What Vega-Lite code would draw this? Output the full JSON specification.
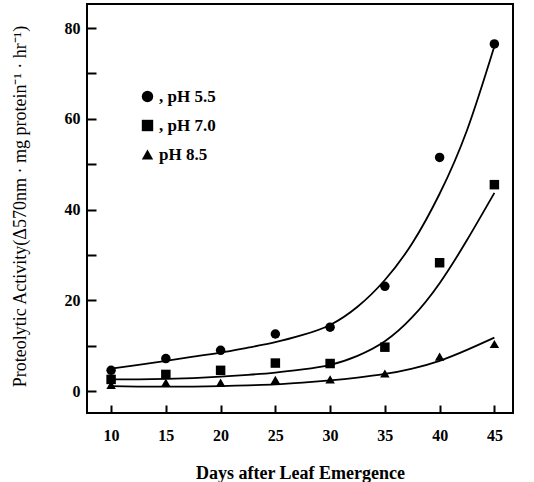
{
  "$schema": "https://vega.github.io/schema/vega-lite/v6.json",
  "width": 426,
  "height": 409,
  "autosize": {"type": "none"},
  "padding": {"left": 87, "top": 4, "right": 21, "bottom": 69},
  "background": "white",
  "config": {
    "view": {"stroke": "black", "strokeWidth": 2},
    "font": "Liberation Serif"
  },
  "datasets": {
    "curves": [
      {"series": "pH 5.5", "day": 10, "activity": 5.0},
      {"series": "pH 5.5", "day": 12.5, "activity": 5.8},
      {"series": "pH 5.5", "day": 15, "activity": 6.7},
      {"series": "pH 5.5", "day": 17.5, "activity": 7.6},
      {"series": "pH 5.5", "day": 20, "activity": 8.5},
      {"series": "pH 5.5", "day": 22.5, "activity": 9.6},
      {"series": "pH 5.5", "day": 25, "activity": 10.8},
      {"series": "pH 5.5", "day": 27.5, "activity": 12.4},
      {"series": "pH 5.5", "day": 30, "activity": 14.6},
      {"series": "pH 5.5", "day": 32.5, "activity": 18.6},
      {"series": "pH 5.5", "day": 35, "activity": 24.5},
      {"series": "pH 5.5", "day": 37.5, "activity": 32.6},
      {"series": "pH 5.5", "day": 40, "activity": 43.5},
      {"series": "pH 5.5", "day": 42.5, "activity": 57.5},
      {"series": "pH 5.5", "day": 45, "activity": 76.0},
      {"series": "pH 7.0", "day": 10, "activity": 2.6},
      {"series": "pH 7.0", "day": 12.5, "activity": 2.6},
      {"series": "pH 7.0", "day": 15, "activity": 2.7},
      {"series": "pH 7.0", "day": 17.5, "activity": 2.9},
      {"series": "pH 7.0", "day": 20, "activity": 3.2},
      {"series": "pH 7.0", "day": 22.5, "activity": 3.6},
      {"series": "pH 7.0", "day": 25, "activity": 4.1},
      {"series": "pH 7.0", "day": 27.5, "activity": 4.8},
      {"series": "pH 7.0", "day": 30, "activity": 5.8},
      {"series": "pH 7.0", "day": 32.5, "activity": 7.8},
      {"series": "pH 7.0", "day": 35, "activity": 11.0},
      {"series": "pH 7.0", "day": 37.5, "activity": 16.3},
      {"series": "pH 7.0", "day": 40, "activity": 23.8},
      {"series": "pH 7.0", "day": 42.5, "activity": 33.3},
      {"series": "pH 7.0", "day": 45, "activity": 43.7},
      {"series": "pH 8.5", "day": 10, "activity": 1.1},
      {"series": "pH 8.5", "day": 12.5, "activity": 1.0},
      {"series": "pH 8.5", "day": 15, "activity": 1.0},
      {"series": "pH 8.5", "day": 17.5, "activity": 1.0},
      {"series": "pH 8.5", "day": 20, "activity": 1.1},
      {"series": "pH 8.5", "day": 22.5, "activity": 1.3},
      {"series": "pH 8.5", "day": 25, "activity": 1.5},
      {"series": "pH 8.5", "day": 27.5, "activity": 1.9},
      {"series": "pH 8.5", "day": 30, "activity": 2.4},
      {"series": "pH 8.5", "day": 32.5, "activity": 3.0},
      {"series": "pH 8.5", "day": 35, "activity": 3.8},
      {"series": "pH 8.5", "day": 37.5, "activity": 5.0},
      {"series": "pH 8.5", "day": 40, "activity": 6.7},
      {"series": "pH 8.5", "day": 42.5, "activity": 9.1},
      {"series": "pH 8.5", "day": 45, "activity": 11.8}
    ],
    "points": [
      {"series": "pH 5.5", "day": 10, "activity": 4.6},
      {"series": "pH 5.5", "day": 15, "activity": 7.2},
      {"series": "pH 5.5", "day": 20, "activity": 9.0},
      {"series": "pH 5.5", "day": 25, "activity": 12.6},
      {"series": "pH 5.5", "day": 30, "activity": 14.1},
      {"series": "pH 5.5", "day": 35, "activity": 23.1},
      {"series": "pH 5.5", "day": 40, "activity": 51.5},
      {"series": "pH 5.5", "day": 45, "activity": 76.5},
      {"series": "pH 7.0", "day": 10, "activity": 2.6},
      {"series": "pH 7.0", "day": 15, "activity": 3.7},
      {"series": "pH 7.0", "day": 20, "activity": 4.6},
      {"series": "pH 7.0", "day": 25, "activity": 6.2},
      {"series": "pH 7.0", "day": 30, "activity": 6.1},
      {"series": "pH 7.0", "day": 35, "activity": 9.7},
      {"series": "pH 7.0", "day": 40, "activity": 28.3},
      {"series": "pH 7.0", "day": 45, "activity": 45.5},
      {"series": "pH 8.5", "day": 10, "activity": 1.4},
      {"series": "pH 8.5", "day": 15, "activity": 1.9},
      {"series": "pH 8.5", "day": 20, "activity": 1.9},
      {"series": "pH 8.5", "day": 25, "activity": 2.5},
      {"series": "pH 8.5", "day": 30, "activity": 2.6},
      {"series": "pH 8.5", "day": 35, "activity": 3.9},
      {"series": "pH 8.5", "day": 40, "activity": 7.6},
      {"series": "pH 8.5", "day": 45, "activity": 10.4}
    ]
  },
  "encoding": {
    "x": {
      "field": "day",
      "type": "quantitative",
      "scale": {"domain": [7.8, 46.7], "nice": false, "zero": false},
      "axis": {
        "values": [10, 15, 20, 25, 30, 35, 40, 45],
        "domain": false,
        "grid": false,
        "tickSize": -8,
        "tickWidth": 2,
        "tickColor": "black",
        "labelPadding": 22,
        "labelFont": "Liberation Serif",
        "labelFontWeight": "bold",
        "labelFontSize": 16,
        "labelColor": "black",
        "title": "Days after Leaf Emergence",
        "titleFont": "Liberation Serif",
        "titleFontWeight": "bold",
        "titleFontSize": 18,
        "titleColor": "black",
        "titleX": 213,
        "titleY": 60,
        "titleBaseline": "middle",
        "titleAlign": "center"
      }
    },
    "y": {
      "field": "activity",
      "type": "quantitative",
      "scale": {"domain": [-4.8, 85.3], "nice": false, "zero": false},
      "axis": {
        "values": [0, 10, 20, 30, 40, 50, 60, 70, 80],
        "labelExpr": "datum.value % 20 == 0 ? datum.label : ''",
        "domain": false,
        "grid": false,
        "tickSize": -9,
        "tickWidth": 2,
        "tickColor": "black",
        "labelPadding": 16,
        "labelFont": "Liberation Serif",
        "labelFontWeight": "bold",
        "labelFontSize": 16,
        "labelColor": "black",
        "title": "Proteolytic Activity(Δ570nm · mg protein⁻¹ · hr⁻¹)",
        "titleFont": "Liberation Serif",
        "titleFontWeight": "normal",
        "titleFontSize": 18,
        "titleColor": "black",
        "titleX": -67,
        "titleY": 202,
        "titleAngle": -90,
        "titleBaseline": "middle",
        "titleAlign": "center"
      }
    }
  },
  "layer": [
    {
      "data": {"name": "curves"},
      "mark": {"type": "line", "interpolate": "natural", "color": "black", "strokeWidth": 1.8},
      "encoding": {"detail": {"field": "series"}}
    },
    {
      "data": {"name": "points"},
      "mark": {"type": "point", "filled": true, "opacity": 1, "color": "black", "size": 90},
      "encoding": {
        "shape": {
          "field": "series",
          "type": "nominal",
          "scale": {"domain": ["pH 5.5", "pH 7.0", "pH 8.5"], "range": ["circle", "square", "triangle-up"]},
          "legend": {
            "orient": "none",
            "legendX": 52,
            "legendY": 84,
            "title": null,
            "padding": 0,
            "rowPadding": 10,
            "symbolSize": 130,
            "symbolFillColor": "black",
            "symbolStrokeColor": "black",
            "symbolOpacity": 1,
            "labelFont": "Liberation Serif",
            "labelFontWeight": "bold",
            "labelFontSize": 17,
            "labelColor": "black",
            "labelOffset": 3,
            "labelExpr": "datum.label == 'pH 8.5' ? ' pH 8.5' : ', ' + datum.label"
          }
        }
      }
    }
  ]
}
